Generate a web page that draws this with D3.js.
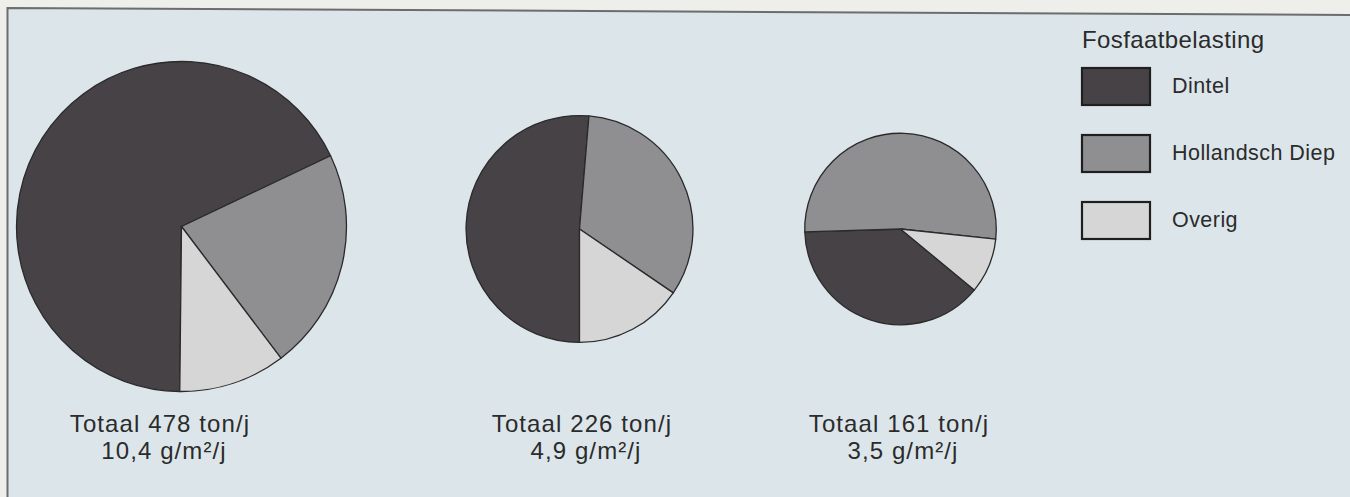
<!DOCTYPE html>
<html>
<head>
<meta charset="utf-8">
<script src="https://cdn.jsdelivr.net/npm/d3@7"></script>
<style>
  html, body { margin: 0; padding: 0; background: #eeeeea; }
  svg { display: block; }
  text { font-family: "Liberation Sans", Arial, sans-serif; fill: #2b2b2b; }
</style>
</head>
<body>
<svg id="chart" width="1350" height="497"></svg>
<script>
// Phosphate load per source, in ton per year
const sources = ["Dintel", "Hollandsch Diep", "Overig"];
const totals = [478, 226, 161];
const densities = ["10,4", "4,9", "3,5"];
const dintel = [324, 116, 62];
const hollandschDiep = [104, 75, 84];
const overig = [50, 35, 15];

// Layout of the three pies
const centerX = [181.5, 579.5, 900.5];
const centerY = [226.5, 229, 229];
const startDeg = [180.6, 180, 129.6];
const labelX = [160, 582, 899];

const colors = ["#464246", "#8f8f92", "#d6d6d6"];

const W = 1350, H = 497;
const svg = d3.select("#chart");

// panel with frame
svg.append("path")
  .attr("d", `M7.5,8 L${W},15 L${W},${H} L7.5,${H} Z`)
  .attr("fill", "#dce6ea");
svg.append("path")
  .attr("d", `M7.5,${H} L7.5,8 L${W},15`)
  .attr("fill", "none")
  .attr("stroke", "#6b6d6e")
  .attr("stroke-width", 2);

const color = d3.scaleOrdinal().domain(sources).range(colors);
const radius = d3.scaleSqrt().domain([0, d3.max(totals)]).range([0, 165]);

totals.forEach((total, i) => {
  const values = [dintel[i], hollandschDiep[i], overig[i]]
    .map((v, k) => ({ source: sources[k], value: v }));
  const start = startDeg[i] * Math.PI / 180;
  const pie = d3.pie()
    .sort(null)
    .value(d => d.value)
    .startAngle(start)
    .endAngle(start + 2 * Math.PI);
  const arc = d3.arc().innerRadius(0).outerRadius(radius(total));

  const g = svg.append("g").attr("transform", `translate(${centerX[i]},${centerY[i]})`);
  g.selectAll("path")
    .data(pie(values))
    .join("path")
    .attr("d", arc)
    .attr("fill", d => color(d.data.source))
    .attr("stroke", "#2a2a2a")
    .attr("stroke-width", 1.3)
    .attr("stroke-linejoin", "round");
});

// totals under each pie, two lines per label
const labels = svg.append("g")
  .attr("font-size", 24)
  .attr("letter-spacing", 1.1)
  .attr("text-anchor", "middle");
totals.forEach((total, i) => {
  const t = labels.append("text").attr("y", 432);
  t.append("tspan")
    .attr("x", labelX[i])
    .text(`Totaal ${total} ton/j`);
  t.append("tspan")
    .attr("x", labelX[i] + 4).attr("dy", 27)
    .text(`${densities[i]} g/m²/j`);
});

// legend
const legend = svg.append("g");
legend.append("text")
  .attr("x", 1082).attr("y", 48)
  .attr("font-size", 24)
  .attr("letter-spacing", 0.4)
  .text("Fosfaatbelasting");
const item = legend.selectAll("g.item")
  .data(sources)
  .join("g")
  .attr("class", "item")
  .attr("transform", (d, k) => `translate(1082,${68 + k * 67})`);
item.append("rect")
  .attr("width", 68).attr("height", 37)
  .attr("fill", d => color(d))
  .attr("stroke", "#1f1f1f")
  .attr("stroke-width", 2.2);
item.append("text")
  .attr("x", 90).attr("y", 25)
  .attr("font-size", 21.5)
  .attr("letter-spacing", 0.45)
  .text(d => d);
</script>
</body>
</html>
